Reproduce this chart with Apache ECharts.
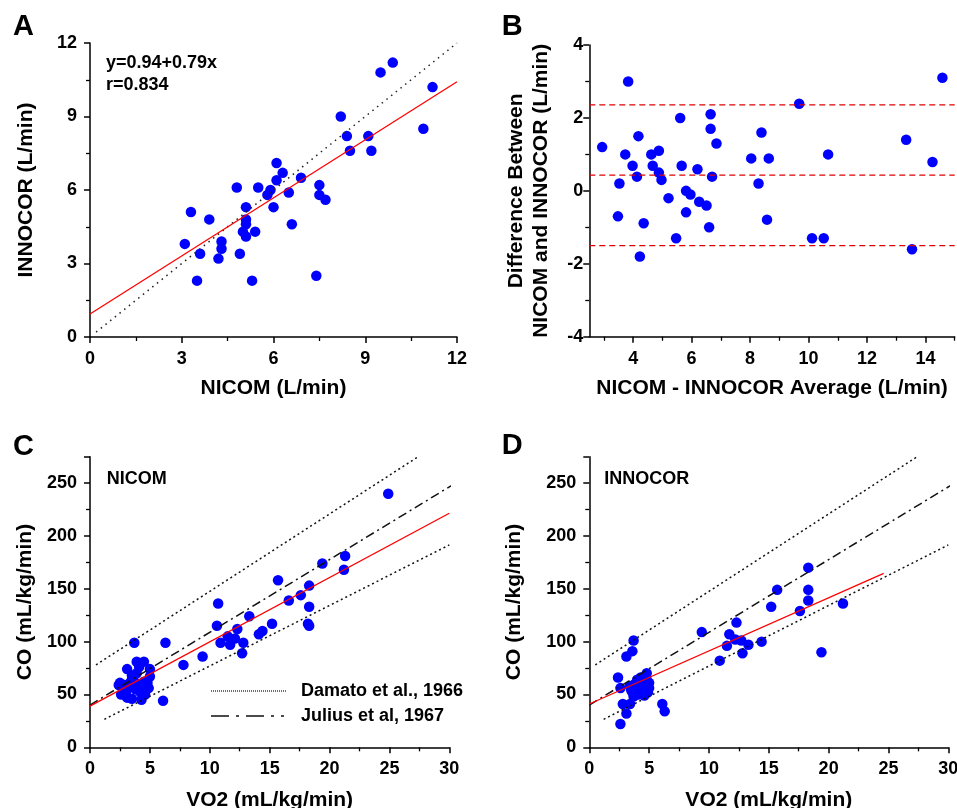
<!DOCTYPE html>
<html>
<head>
<meta charset="utf-8">
<script src="https://cdn.jsdelivr.net/npm/echarts@6/dist/echarts.min.js"></script>
<style>html,body{margin:0;padding:0;background:#fff;}#c{width:957px;height:808px;}</style>
</head>
<body>
<div id="c"></div>
<script>
// ---------- Panel A: NICOM vs INNOCOR (L/min) ----------
var aNicom   = [3.1,3.3,3.6,3.5,3.9,4.2,4.3,4.3,4.8,4.9,5.0,5.1,5.1,5.1,5.1,5.3,5.4,5.5,5.8,5.9,6.0,6.1,6.1,6.3,6.5,6.6,6.9,7.4,7.5,7.5,7.7,8.2,8.4,8.5,9.1,9.2,9.5,9.9,10.9,11.2];
var aInnocor = [3.8,5.1,3.4,2.3,4.8,3.2,3.9,3.6,6.1,3.4,4.3,5.3,4.8,4.6,4.1,2.3,4.3,6.1,5.8,6.0,5.3,7.1,6.4,6.7,5.9,4.6,6.5,2.5,6.2,5.8,5.6,9.0,8.2,7.6,8.2,7.6,10.8,11.2,8.5,10.2];
var aFitX = [0, 12];
var aFitY = [0.94, 10.42];
var aIdX = [0.2, 12];
var aIdY = [0.2, 12];

// ---------- Panel B: Bland-Altman ----------
var bAvg  = [2.94,3.48,3.53,3.73,3.83,3.98,4.13,4.18,4.23,4.36,4.62,4.67,4.88,4.88,4.97,5.21,5.47,5.61,5.66,5.81,5.81,5.96,6.20,6.26,6.51,6.60,6.65,6.65,6.70,6.85,8.04,8.29,8.39,8.58,8.64,9.68,10.12,10.52,10.67,13.34,13.54,14.24,14.58];
var bDiff = [1.20,-0.70,0.20,1.00,3.00,0.69,0.39,1.50,-1.80,-0.89,1.00,0.69,1.10,0.50,0.30,-0.20,-1.30,2.00,0.69,0.00,-0.59,-0.10,0.59,-0.30,-0.40,-1.00,2.10,1.70,0.39,1.30,0.89,0.20,1.60,-0.79,0.89,2.39,-1.30,-1.30,1.00,1.40,-1.60,0.79,3.10];
var bLimX = [2.5, 15];
var bMean = 0.43;
var bUpper = 2.36;
var bLower = -1.50;
var bXLabels = [4, 6, 8, 10, 12, 14];
var bXMinor = [3, 5, 7, 9, 11, 13, 15];

// ---------- Panel C: NICOM CO vs VO2 ----------
var cVo2 = [2.4,2.5,2.6,2.8,2.9,3.0,3.1,3.1,3.3,3.4,3.5,3.5,3.6,3.7,3.8,3.9,3.9,4.0,4.1,4.2,4.3,4.4,4.5,4.5,4.6,4.7,4.8,4.9,5.0,5.0,6.1,6.3,7.8,9.4,10.6,10.7,10.9,11.5,11.7,12.1,12.3,12.7,12.8,13.3,14.1,14.4,15.2,15.7,16.6,17.6,18.3,18.3,18.2,18.3,19.4,21.2,21.3,24.9];
var cCo  = [59,61,50,55,59,52,74,47,57,62,68,46,66,99,55,81,70,60,76,52,45,56,81,62,50,58,61,56,74,67,44,99,78,86,115,136,99,105,97,103,112,89,99,124,107,110,117,158,139,144,153,133,117,115,174,168,181,240];
var cFitX = [0, 30];
var cFitY = [39, 221.5];

// ---------- Panel D: INNOCOR CO vs VO2 ----------
var dVo2 = [2.4,2.6,2.6,2.8,3.1,3.1,3.6,3.7,3.4,3.4,3.6,3.7,3.8,3.9,4.0,4.1,4.2,4.3,4.4,4.5,4.6,4.7,4.8,4.8,4.9,5.0,5.0,4.2,3.5,6.1,6.3,9.4,10.9,11.5,11.7,12.3,12.2,12.7,12.8,13.3,14.4,15.2,15.7,17.6,18.3,18.3,18.3,19.4,21.2];
var dCo  = [66,56,22,41,32,86,91,101,41,58,52,48,60,55,64,50,57,66,53,60,49,56,70,64,52,61,56,62,54,41,34,109,82,96,107,118,102,101,89,97,100,133,149,129,170,149,139,90,136];
var dFitX = [0, 24.6];
var dFitY = [41, 164.5];

// ---------- Reference lines (C & D) ----------
var damatoUpX = [0.5, 27.4], damatoUpY = [78, 275];
var damatoLoX = [1.2, 30],   damatoLoY = [26.5, 191.5];
var juliusX = [0, 30.9],     juliusY = [40, 252.6];

var FONT = '"Liberation Sans", Arial, Helvetica, sans-serif';
var TICKFS = 18;

function zip(xs, ys) { return xs.map(function (x, i) { return [x, ys[i]]; }); }

function axisBase(extra) {
  var o = {
    type: 'value',
    splitLine: { show: false },
    axisLine: { show: true, onZero: false, lineStyle: { color: '#000', width: 1.5 } },
    axisTick: { show: true, length: 6, lineStyle: { color: '#000', width: 1.5 } },
    minorTick: { show: true, splitNumber: 2, length: 4, lineStyle: { color: '#000', width: 1.3 } },
    axisLabel: { color: '#000', fontWeight: 'bold', fontSize: TICKFS, fontFamily: FONT, margin: 13 },
    nameLocation: 'middle',
    nameTextStyle: { color: '#000', fontWeight: 'bold', fontSize: 21, fontFamily: FONT }
  };
  for (var k in extra) o[k] = extra[k];
  return o;
}

function scatter(xi, yi, data) {
  return { type: 'scatter', xAxisIndex: xi, yAxisIndex: yi, data: data, symbol: 'circle', symbolSize: 10.5,
           itemStyle: { color: '#0000ff', opacity: 1 }, z: 2, silent: true };
}
function line(xi, yi, data, color, width, dash) {
  return { type: 'line', xAxisIndex: xi, yAxisIndex: yi, data: data, showSymbol: false, symbol: 'none',
           lineStyle: { color: color, width: width, type: dash || 'solid' }, z: 3, silent: true, clip: false };
}

function grid(l, t, w, h) { return { left: l, top: t, width: w, height: h, containLabel: false, outerBoundsMode: 'none' }; }

var option = {
  animation: false,
  backgroundColor: '#fff',
  grid: [
    grid(90, 43, 367, 294),
    grid(589.3, 45, 365.4, 291.7),
    grid(90, 456.7, 359.3, 290.6),
    grid(589.3, 456.7, 359, 290.6)
  ],
  xAxis: [
    axisBase({ gridIndex: 0, min: 0, max: 12, interval: 3, name: 'NICOM (L/min)', nameGap: 41 }),
    axisBase({ gridIndex: 1, min: 2.5, max: 15, position: 'bottom', name: 'NICOM - INNOCOR Average (L/min)', nameGap: 41,
               minorTick: { show: false },
               axisTick: { show: true, length: 6, customValues: bXLabels, lineStyle: { color: '#000', width: 1.5 } },
               axisLabel: { color: '#000', fontWeight: 'bold', fontSize: TICKFS, fontFamily: FONT, margin: 13, customValues: bXLabels } }),
    axisBase({ gridIndex: 2, min: 0, max: 30, interval: 5, name: 'VO2 (mL/kg/min)', nameGap: 42 }),
    axisBase({ gridIndex: 3, min: 0, max: 30, interval: 5, name: 'VO2 (mL/kg/min)', nameGap: 42 }),
    { type: 'value', gridIndex: 1, min: 2.5, max: 15, position: 'bottom', offset: 0,
      splitLine: { show: false }, axisLine: { show: false, onZero: false }, axisLabel: { show: false },
      axisTick: { show: true, length: 4, customValues: bXMinor, lineStyle: { color: '#000', width: 1.3 } } }
  ],
  yAxis: [
    axisBase({ gridIndex: 0, min: 0, max: 12, interval: 3, name: 'INNOCOR (L/min)', nameGap: 53 }),
    axisBase({ gridIndex: 1, min: -4, max: 4, interval: 2, name: 'Difference Between\nNICOM and INNOCOR (L/min)', nameGap: 36,
               nameTextStyle: { color: '#000', fontWeight: 'bold', fontSize: 21, fontFamily: FONT, lineHeight: 25 },
               axisLabel: { color: '#000', fontWeight: 'bold', fontSize: TICKFS, fontFamily: FONT, margin: 6 } }),
    axisBase({ gridIndex: 2, min: 0, max: 275, interval: 50, name: 'CO (mL/kg/min)', nameGap: 54,
               axisLabel: { color: '#000', fontWeight: 'bold', fontSize: TICKFS, fontFamily: FONT, margin: 13, showMaxLabel: false } }),
    axisBase({ gridIndex: 3, min: 0, max: 275, interval: 50, name: 'CO (mL/kg/min)', nameGap: 65,
               axisLabel: { color: '#000', fontWeight: 'bold', fontSize: TICKFS, fontFamily: FONT, margin: 13, showMaxLabel: false } })
  ],
  series: [
    // A
    scatter(0, 0, zip(aNicom, aInnocor)),
    line(0, 0, zip(aIdX, aIdY), '#222', 1.5, [1.5, 4.5]),
    line(0, 0, zip(aFitX, aFitY), '#ff0000', 1.3),
    // B
    scatter(1, 1, zip(bAvg, bDiff)),
    line(1, 1, zip(bLimX, [bUpper, bUpper]), '#e00000', 1.3, [6, 4]),
    line(1, 1, zip(bLimX, [bMean, bMean]), '#e00000', 1.3, [6, 4]),
    line(1, 1, zip(bLimX, [bLower, bLower]), '#e00000', 1.3, [6, 4]),
    // C
    scatter(2, 2, zip(cVo2, cCo)),
    line(2, 2, zip(damatoUpX, damatoUpY), '#111', 1.5, [2, 3]),
    line(2, 2, zip(damatoLoX, damatoLoY), '#111', 1.5, [2, 3]),
    line(2, 2, zip(juliusX, juliusY), '#111', 1.5, [9, 4, 2, 4]),
    line(2, 2, zip(cFitX, cFitY), '#ff0000', 1.3),
    // D
    scatter(3, 3, zip(dVo2, dCo)),
    line(3, 3, zip(damatoUpX, damatoUpY), '#111', 1.5, [2, 3]),
    line(3, 3, zip(damatoLoX, damatoLoY), '#111', 1.5, [2, 3]),
    line(3, 3, zip(juliusX, juliusY), '#111', 1.5, [9, 4, 2, 4]),
    line(3, 3, zip(dFitX, dFitY), '#ff0000', 1.3)
  ],
  graphic: [
    { type: 'text', x: 13, y: 27, style: { text: 'A', fill: '#000', font: 'bold 29px ' + FONT, verticalAlign: 'middle', textVerticalAlign: 'middle' } },
    { type: 'text', x: 501.7, y: 27, style: { text: 'B', fill: '#000', font: 'bold 29px ' + FONT, verticalAlign: 'middle', textVerticalAlign: 'middle' } },
    { type: 'text', x: 13, y: 446.7, style: { text: 'C', fill: '#000', font: 'bold 29px ' + FONT, verticalAlign: 'middle', textVerticalAlign: 'middle' } },
    { type: 'text', x: 501.7, y: 446, style: { text: 'D', fill: '#000', font: 'bold 29px ' + FONT, verticalAlign: 'middle', textVerticalAlign: 'middle' } },
    { type: 'text', x: 106, y: 63.5, style: { text: 'y=0.94+0.79x', fill: '#000', font: 'bold 18px ' + FONT, verticalAlign: 'middle', textVerticalAlign: 'middle' } },
    { type: 'text', x: 106, y: 85, style: { text: 'r=0.834', fill: '#000', font: 'bold 18px ' + FONT, verticalAlign: 'middle', textVerticalAlign: 'middle' } },
    { type: 'text', x: 106.7, y: 479, style: { text: 'NICOM', fill: '#000', font: 'bold 18px ' + FONT, verticalAlign: 'middle', textVerticalAlign: 'middle' } },
    { type: 'text', x: 604.3, y: 479, style: { text: 'INNOCOR', fill: '#000', font: 'bold 18px ' + FONT, verticalAlign: 'middle', textVerticalAlign: 'middle' } },
    // legend in panel C
    { type: 'line', shape: { x1: 211, y1: 691, x2: 287, y2: 691 }, style: { stroke: '#111', lineWidth: 1.2, lineDash: [1, 1] } },
    { type: 'text', x: 301, y: 691, style: { text: 'Damato et al., 1966', fill: '#000', font: 'bold 18px ' + FONT, verticalAlign: 'middle', textVerticalAlign: 'middle' } },
    { type: 'line', shape: { x1: 211, y1: 716, x2: 284, y2: 716 }, style: { stroke: '#111', lineWidth: 1.3, lineDash: [18, 7, 3, 7] } },
    { type: 'text', x: 301, y: 716, style: { text: 'Julius et al, 1967', fill: '#000', font: 'bold 18px ' + FONT, verticalAlign: 'middle', textVerticalAlign: 'middle' } }
  ]
};

var chart = echarts.init(document.getElementById('c'), null, { renderer: 'canvas' });
chart.setOption(option);
</script>
</body>
</html>
